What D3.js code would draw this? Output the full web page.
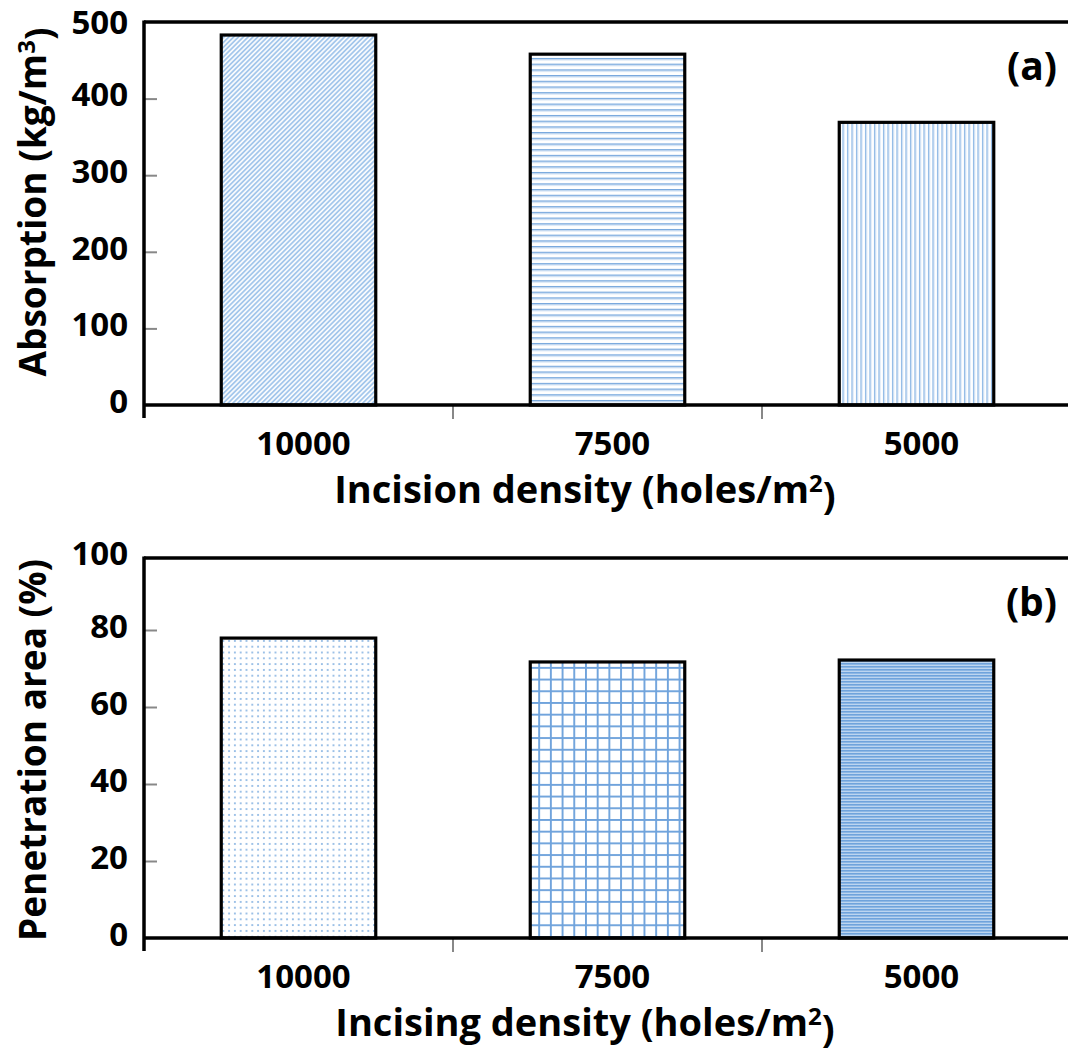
<!DOCTYPE html>
<html>
<head>
<meta charset="utf-8">
<script src="https://cdn.jsdelivr.net/npm/d3@7"></script>
<style>
  body { margin: 0; background: #fff; }
  text { font-family: "Open Sans", sans-serif; font-weight: bold; fill: #000; }
</style>
</head>
<body>
<svg id="chart" width="1068" height="1052"></svg>
<script>
// data
var categories = ["10000", "7500", "5000"];
var absorption = [483, 458, 369];
var penetration = [77.9, 71.7, 72.2];
var absorptionTicks = [0, 100, 200, 300, 400, 500];
var penetrationTicks = [0, 20, 40, 60, 80, 100];
var patternsA = ["diag", "horiz", "vert"];
var patternsB = ["dots", "grid", "dense"];

var svg = d3.select("#chart"),
    width = +svg.attr("width"),
    height = +svg.attr("height");

var left = 144, right = 1071;
var blue = "#6fa3dc";

// patterns
var defs = svg.append("defs");

var p = defs.append("pattern").attr("id", "diag").attr("patternUnits", "userSpaceOnUse")
    .attr("width", 3.4).attr("height", 3.4).attr("patternTransform", "rotate(45)");
p.append("rect").attr("width", 3.4).attr("height", 3.4).attr("fill", "#fff");
p.append("line").attr("x1", 1).attr("x2", 1).attr("y1", 0).attr("y2", 3.4)
    .attr("stroke", "#9cc2ea").attr("stroke-width", 1.7);

p = defs.append("pattern").attr("id", "horiz").attr("patternUnits", "userSpaceOnUse")
    .attr("width", 10).attr("height", 5.7);
p.append("rect").attr("width", 10).attr("height", 5.7).attr("fill", "#fff");
p.append("rect").attr("y", 1).attr("width", 10).attr("height", 1.1).attr("fill", blue);
p.append("rect").attr("y", 2.1).attr("width", 10).attr("height", 1.1).attr("fill", "#b5d0ee");

p = defs.append("pattern").attr("id", "vert").attr("patternUnits", "userSpaceOnUse")
    .attr("width", 4.5).attr("height", 10);
p.append("rect").attr("width", 4.5).attr("height", 10).attr("fill", "#fff");
p.append("rect").attr("x", 1).attr("width", 1.2).attr("height", 10).attr("fill", "#7fafe2");
p.append("rect").attr("x", 2.2).attr("width", 0.8).attr("height", 10).attr("fill", "#c4daf2");

p = defs.append("pattern").attr("id", "dots").attr("patternUnits", "userSpaceOnUse")
    .attr("width", 5.8).attr("height", 5.8);
p.append("rect").attr("width", 5.8).attr("height", 5.8).attr("fill", "#fff");
p.append("circle").attr("cx", 2.9).attr("cy", 2.9).attr("r", 1).attr("fill", "#7eaee0");

p = defs.append("pattern").attr("id", "grid").attr("patternUnits", "userSpaceOnUse")
    .attr("width", 11.7).attr("height", 11.7);
p.append("rect").attr("width", 11.7).attr("height", 11.7).attr("fill", "#fff");
p.append("rect").attr("x", 0).attr("width", 1.9).attr("height", 11.7).attr("fill", blue);
p.append("rect").attr("y", 0).attr("width", 11.7).attr("height", 1.9).attr("fill", blue);

p = defs.append("pattern").attr("id", "dense").attr("patternUnits", "userSpaceOnUse")
    .attr("width", 10).attr("height", 3);
p.append("rect").attr("width", 10).attr("height", 3).attr("fill", "#bcd5f0");
p.append("rect").attr("width", 10).attr("height", 1.6).attr("fill", "#6fa3dc");

var x = d3.scaleBand().domain(categories).range([left, right]);
var barW = x.bandwidth() * 0.5;

function panel(cfg) {
    var g = svg.append("g");
    var y = d3.scaleLinear().domain([0, cfg.max]).range([cfg.bottom, cfg.yTop]);

    // bars
    g.selectAll("rect.bar")
        .data(cfg.values)
        .enter()
        .append("rect")
        .attr("class", "bar")
        .attr("x", function(d, i) { return x(categories[i]) + (x.bandwidth() - barW) / 2; })
        .attr("y", function(d) { return y(d); })
        .attr("width", barW)
        .attr("height", function(d) { return cfg.bottom - y(d); })
        .attr("fill", function(d, i) { return "url(#" + cfg.patterns[i] + ")"; })
        .attr("stroke", "#000")
        .attr("stroke-width", 3.2);

    // inner y ticks (gray)
    var yAxis = g.append("g")
        .attr("transform", "translate(" + left + ",0)")
        .call(d3.axisRight(y).tickValues(cfg.ticks.slice(1, -1)).tickSize(13).tickFormat(""));
    yAxis.select(".domain").remove();
    yAxis.selectAll("line").attr("stroke", "#888").attr("stroke-width", 2);

    // y tick labels
    g.selectAll("text.ylab")
        .data(cfg.ticks)
        .enter()
        .append("text")
        .attr("class", "ylab")
        .attr("x", 128)
        .attr("y", function(d, i) { return y(d) - (i === cfg.ticks.length - 1 ? 0 : 4); })
        .attr("dy", "0.36em")
        .attr("text-anchor", "end")
        .style("font-size", "33px")
        .text(function(d) { return d; });

    // x boundary ticks
    g.selectAll("line.xt")
        .data(categories.slice(1))
        .enter()
        .append("line")
        .attr("class", "xt")
        .attr("x1", function(d) { return x(d); })
        .attr("x2", function(d) { return x(d); })
        .attr("y1", cfg.bottom)
        .attr("y2", cfg.bottom + 14)
        .attr("stroke", "#888")
        .attr("stroke-width", 2);

    // frame: top, left, bottom
    g.append("line").attr("x1", left).attr("x2", width).attr("y1", cfg.frameTop).attr("y2", cfg.frameTop)
        .attr("stroke", "#000").attr("stroke-width", 3.5);
    g.append("line").attr("x1", left).attr("x2", left).attr("y1", cfg.frameTop - 1.5).attr("y2", cfg.bottom + 13)
        .attr("stroke", "#000").attr("stroke-width", 3.5);
    g.append("line").attr("x1", left).attr("x2", width).attr("y1", cfg.bottom).attr("y2", cfg.bottom)
        .attr("stroke", "#000").attr("stroke-width", 3.5);

    // x tick labels
    g.selectAll("text.xlab")
        .data(categories)
        .enter()
        .append("text")
        .attr("class", "xlab")
        .attr("x", function(d) { return x(d) + x.bandwidth() / 2 + 5; })
        .attr("y", cfg.bottom + 50)
        .attr("text-anchor", "middle")
        .style("font-size", "33px")
        .text(function(d) { return d; });

    // x title
    var xt = g.append("text")
        .attr("x", 585)
        .attr("y", cfg.bottom + 98)
        .attr("text-anchor", "middle")
        .style("font-size", "38px");
    xt.append("tspan").text(cfg.xTitle);
    xt.append("tspan").attr("dy", "-0.45em").style("font-size", "24px").text("2");
    xt.append("tspan").attr("dy", "0.45em").text(")");

    // y title
    var yt = g.append("text")
        .attr("transform", "translate(46," + cfg.yMid + ") rotate(-90)")
        .attr("text-anchor", "middle")
        .style("font-size", "37px");
    yt.append("tspan").text(cfg.yTitle);
    if (cfg.ySup) {
        yt.append("tspan").attr("dy", "-0.45em").style("font-size", "24px").text(cfg.ySup);
        yt.append("tspan").attr("dy", "0.45em").text(")");
    }

    // panel label
    g.append("text")
        .attr("x", 1057)
        .attr("y", cfg.frameTop + 58)
        .attr("text-anchor", "end")
        .style("font-size", "39px")
        .text(cfg.label);
}

panel({
    values: absorption, ticks: absorptionTicks, max: 500, patterns: patternsA,
    bottom: 405, yTop: 22, frameTop: 22, yMid: 202,
    xTitle: "Incision density (holes/m", yTitle: "Absorption (kg/m", ySup: "3",
    label: "(a)"
});

panel({
    values: penetration, ticks: penetrationTicks, max: 100, patterns: patternsB,
    bottom: 938, yTop: 553, frameTop: 558, yMid: 750,
    xTitle: "Incising density (holes/m", yTitle: "Penetration area (%)", ySup: null,
    label: "(b)"
});
</script>
</body>
</html>
